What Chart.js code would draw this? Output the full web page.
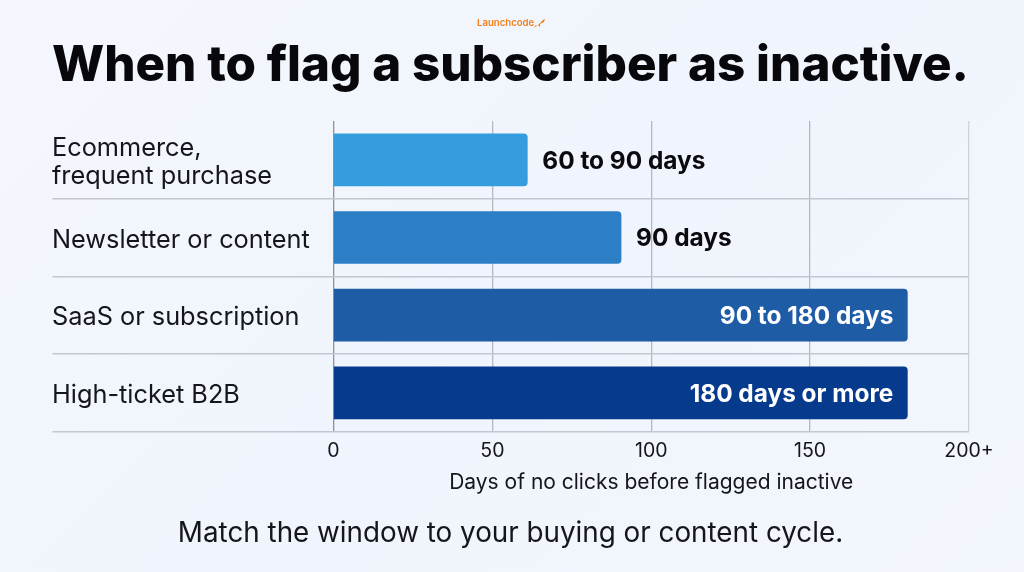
<!DOCTYPE html>
<html>
<head>
<meta charset="utf-8">
<script src="https://cdn.jsdelivr.net/npm/chart.js@4"></script>
<style>
html,body{margin:0;padding:0;width:1024px;height:572px;overflow:hidden;background:linear-gradient(135deg,#f4f7fd 0%,#f0f4fc 50%,#f3f6fd 100%);}
#wrap{position:relative;width:1024px;height:572px;}
#logo{position:absolute;left:477px;top:17px;font:600 9.6px Inter,sans-serif;color:#f07f1a;line-height:12px;white-space:nowrap;display:flex;align-items:center;}
</style>
</head>
<body>
<div id="wrap">
<div id="logo">Launchcode<svg width="13" height="9" viewBox="0 0 11 9" style="margin-left:-1px"><path d="M0 7 L4 6 L9 1 L11 0 L10 3 L6 5 L6 8 L4 6 L1 8 Z" fill="#f07f1a"/></svg></div>
<canvas id="c" width="1024" height="572"></canvas>
</div>
<script>
const titleText = "When to flag a subscriber as inactive.";
const subtitleText = "Match the window to your buying or content cycle.";
const axisTitle = "Days of no clicks before flagged inactive";
const categories = [["Ecommerce,","frequent purchase"],"Newsletter or content","SaaS or subscription","High-ticket B2B"];
const days = [61,90.5,180.6,180.6];
const valueLabels = ["60 to 90 days","90 days","90 to 180 days","180 days or more"];
const labelInside = [false,false,true,true];
const barColors = ["#359ddd","#2c7fc4","#1f5ca6","#063a8c"];
const xTicks = {0:"0",50:"50",100:"100",150:"150",200:"200+"};
const FONT = "Inter, sans-serif";

const valueLabelPlugin = {
  id:"valueLabels",
  afterDatasetsDraw(chart){
    const ctx = chart.ctx, meta = chart.getDatasetMeta(0);
    ctx.save();
    ctx.font = "700 24.4px "+FONT;
    ctx.textBaseline = "middle";
    meta.data.forEach((bar,i)=>{
      if(labelInside[i]){
        ctx.fillStyle="#ffffff"; ctx.textAlign="right";
        ctx.fillText(valueLabels[i],bar.x-14,bar.y+2);
      }else{
        ctx.fillStyle="#0b0b0f"; ctx.textAlign="left";
        ctx.fillText(valueLabels[i],bar.x+15,bar.y+1.5);
      }
    });
    ctx.restore();
  }
};

new Chart(document.getElementById("c"),{
  type:"bar",
  data:{labels:categories,datasets:[{data:days,backgroundColor:barColors,barThickness:52,borderRadius:4}]},
  plugins:[valueLabelPlugin],
  options:{
    indexAxis:"y",responsive:false,animation:false,
    layout:{padding:{left:52,right:55,top:0,bottom:0}},
    plugins:{
      legend:{display:false},tooltip:{enabled:false},
      title:{display:true,text:titleText,color:"#08080c",align:"center",font:{family:FONT,size:49.5,weight:"800"},padding:{top:36,bottom:25.6}},
      subtitle:{display:true,position:"bottom",text:subtitleText,color:"#15151c",font:{family:FONT,size:27.8,weight:"400"},padding:{top:22.1,bottom:21.3}}
    },
    scales:{
      x:{min:0,max:200,
        border:{display:false},
        grid:{color:c=>c.tick&&c.tick.value===0?"#8f929b":(c.tick&&c.tick.value===200?"#cfd2da":"#b5b8c0"),lineWidth:1.3,drawTicks:false},
        ticks:{stepSize:50,padding:7.5,color:"#15151c",font:{family:FONT,size:19.5},maxRotation:0,callback:v=>xTicks[v]},
        title:{display:true,text:axisTitle,color:"#15151c",font:{family:FONT,size:21},padding:{top:0,bottom:0}}
      },
      y:{
        border:{display:false},
        afterFit(s){s.width=281.5;},
        grid:{offset:true,drawOnChartArea:true,tickLength:281,
          color:c=>c.index===0?"rgba(0,0,0,0)":"#c3c6d0",
          tickColor:c=>c.index===0?"rgba(0,0,0,0)":"#c3c6d0",lineWidth:1.5},
        ticks:{crossAlign:"far",padding:0,color:"#15151c",labelOffset:c=>c.index===0?0.5:2.5,font:{family:FONT,size:25.3,lineHeight:1.1}}
      }
    }
  }
});
</script>
</body>
</html>
